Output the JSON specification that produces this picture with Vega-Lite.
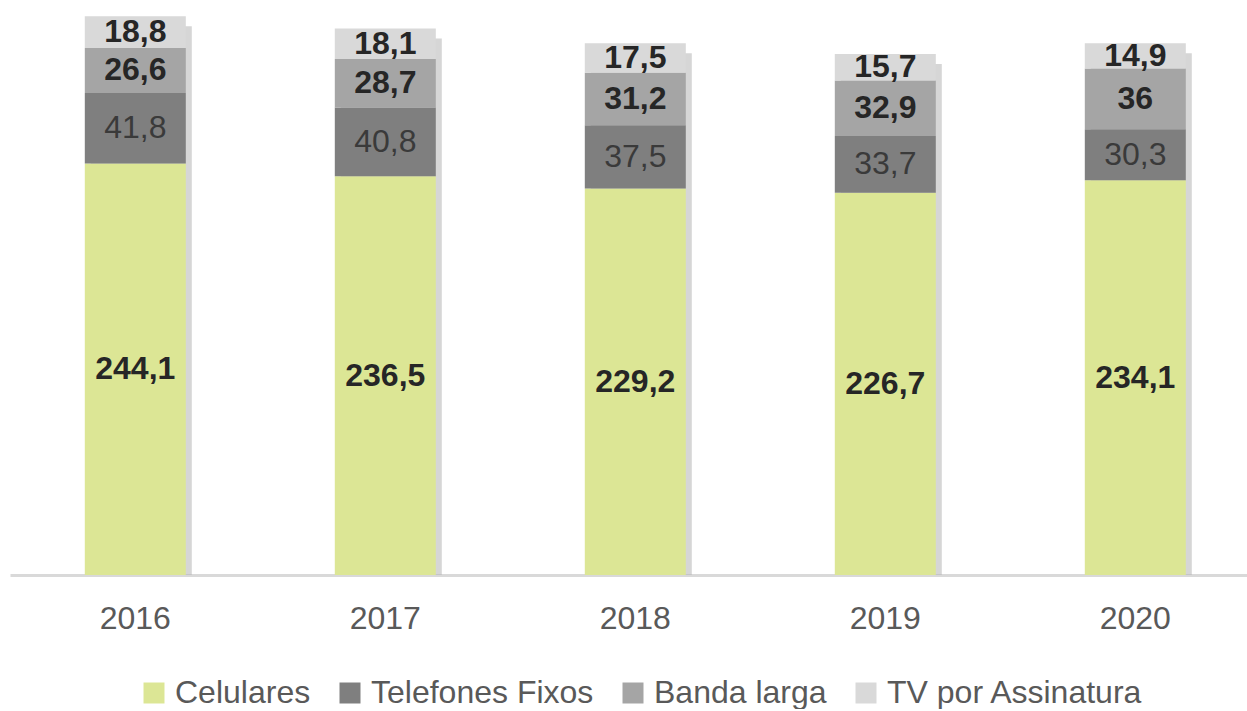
{
  "$schema": "https://vega.github.io/schema/vega-lite/v6.json",
  "width": 1237,
  "height": 575,
  "padding": {"left": 10, "top": 0, "right": 0, "bottom": 0},
  "background": "white",
  "config": {
    "view": {"stroke": null},
    "font": "Liberation Sans",
    "locale": {"number": {"decimal": ",", "thousands": ".", "grouping": [3], "currency": ["R$", ""]}}
  },
  "data": {
    "values": [
      {"ano": "2016", "servico": "Celulares", "ordem": 1, "valor": 244.1},
      {"ano": "2016", "servico": "Telefones Fixos", "ordem": 2, "valor": 41.8},
      {"ano": "2016", "servico": "Banda larga", "ordem": 3, "valor": 26.6},
      {"ano": "2016", "servico": "TV por Assinatura", "ordem": 4, "valor": 18.8},
      {"ano": "2017", "servico": "Celulares", "ordem": 1, "valor": 236.5},
      {"ano": "2017", "servico": "Telefones Fixos", "ordem": 2, "valor": 40.8},
      {"ano": "2017", "servico": "Banda larga", "ordem": 3, "valor": 28.7},
      {"ano": "2017", "servico": "TV por Assinatura", "ordem": 4, "valor": 18.1},
      {"ano": "2018", "servico": "Celulares", "ordem": 1, "valor": 229.2},
      {"ano": "2018", "servico": "Telefones Fixos", "ordem": 2, "valor": 37.5},
      {"ano": "2018", "servico": "Banda larga", "ordem": 3, "valor": 31.2},
      {"ano": "2018", "servico": "TV por Assinatura", "ordem": 4, "valor": 17.5},
      {"ano": "2019", "servico": "Celulares", "ordem": 1, "valor": 226.7},
      {"ano": "2019", "servico": "Telefones Fixos", "ordem": 2, "valor": 33.7},
      {"ano": "2019", "servico": "Banda larga", "ordem": 3, "valor": 32.9},
      {"ano": "2019", "servico": "TV por Assinatura", "ordem": 4, "valor": 15.7},
      {"ano": "2020", "servico": "Celulares", "ordem": 1, "valor": 234.1},
      {"ano": "2020", "servico": "Telefones Fixos", "ordem": 2, "valor": 30.3},
      {"ano": "2020", "servico": "Banda larga", "ordem": 3, "valor": 36},
      {"ano": "2020", "servico": "TV por Assinatura", "ordem": 4, "valor": 14.9}
    ]
  },
  "encoding": {
    "x": {
      "field": "ano", "type": "nominal", "title": null,
      "scale": {"paddingInner": 0.596, "paddingOuter": 0.272, "align": 0.55},
      "axis": {
        "labelAngle": 0, "ticks": false, "labelPadding": 28,
        "labelFontSize": 32, "labelColor": "#595959",
        "domainColor": "#d9d9d9", "domainWidth": 3, "grid": false
      }
    }
  },
  "layer": [
    {
      "mark": {"type": "bar", "color": "#b5b5b5", "opacity": 0.55, "xOffset": 6, "yOffset": 10},
      "encoding": {
        "y": {"aggregate": "sum", "field": "valor", "type": "quantitative", "scale": {"domain": [0, 341]}, "axis": null}
      }
    },
    {
      "mark": {"type": "bar"},
      "encoding": {
        "y": {"field": "valor", "type": "quantitative", "stack": "zero", "scale": {"domain": [0, 341]}, "axis": null},
        "color": {
          "field": "servico", "type": "nominal", "title": null,
          "scale": {
            "domain": ["Celulares", "Telefones Fixos", "Banda larga", "TV por Assinatura"],
            "range": ["#dce695", "#7f7f7f", "#a5a5a5", "#d9d9d9"]
          },
          "legend": {
            "orient": "none", "legendX": 128, "legendY": 677, "padding": 0,
            "direction": "horizontal", "columns": 4,
            "symbolType": "square", "symbolSize": 441, "symbolStrokeWidth": 0,
            "symbolOffset": 0,
            "labelFontSize": 32, "labelColor": "#595959", "columnPadding": 23,
            "labelOffset": 5, "labelLimit": 400
          }
        },
        "order": {"field": "ordem", "type": "quantitative"}
      }
    },
    {
      "transform": [
        {"stack": "valor", "groupby": ["ano"], "sort": [{"field": "ordem", "order": "ascending"}], "as": ["y0", "y1"]},
        {"calculate": "(datum.y0 + datum.y1) / 2", "as": "ymid"},
        {"filter": "datum.servico !== 'Telefones Fixos'"}
      ],
      "mark": {"type": "text", "fontSize": 32, "baseline": "middle", "fontWeight": "bold", "color": "#262626"},
      "encoding": {
        "y": {"field": "ymid", "type": "quantitative", "scale": {"domain": [0, 341]}, "axis": null},
        "text": {"field": "valor", "type": "quantitative", "format": ".1~f"}
      }
    },
    {
      "transform": [
        {"stack": "valor", "groupby": ["ano"], "sort": [{"field": "ordem", "order": "ascending"}], "as": ["y0", "y1"]},
        {"calculate": "(datum.y0 + datum.y1) / 2", "as": "ymid"},
        {"filter": "datum.servico === 'Telefones Fixos'"}
      ],
      "mark": {"type": "text", "fontSize": 32, "baseline": "middle", "color": "#3a3a3a"},
      "encoding": {
        "y": {"field": "ymid", "type": "quantitative", "scale": {"domain": [0, 341]}, "axis": null},
        "text": {"field": "valor", "type": "quantitative", "format": ".1~f"}
      }
    }
  ]
}
